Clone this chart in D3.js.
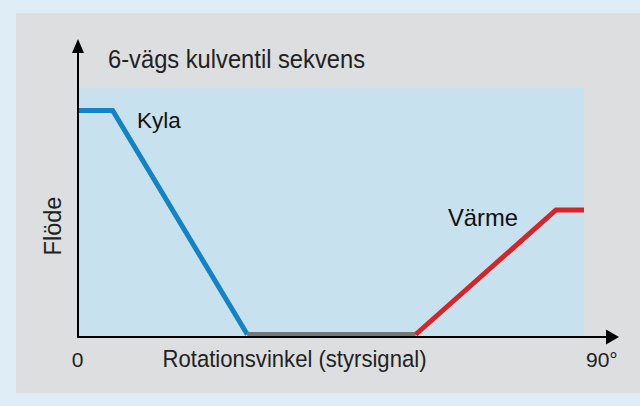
<!DOCTYPE html>
<html>
<head>
<meta charset="utf-8">
<script src="https://cdn.jsdelivr.net/npm/d3@7"></script>
<style>
  html, body { margin: 0; padding: 0; background: #dfeef6; }
  svg { display: block; font-family: 'Liberation Sans', Arial, Helvetica, sans-serif; }
</style>
</head>
<body>
<div id="chart"></div>
<script>
const title = '6-vägs kulventil sekvens'
const xLabel = 'Rotationsvinkel (styrsignal)'
const yLabel = 'Flöde'
const xTickValues = [0, 90]
const xTickLabels = ['0', '90°']

// rotation (0-90°) vs flow (0-100)
const kylaX = [0, 6, 30]
const kylaY = [90, 90, 0]
const closedX = [30, 60]
const closedY = [0, 0]
const varmeX = [60, 85, 90]
const varmeY = [0, 50, 50]

const width = 640
const height = 406
const lineWidth = 5

const colors = {
  outer: '#dfeef6',
  panel: '#dcdee0',
  plot: '#c8e1ee',
  kyla: '#1483c6',
  closed: '#757878',
  varme: '#d4252b',
  text: '#222',
}

const svg = d3.select('#chart')
  .append('svg')
  .attr('width', width)
  .attr('height', height)

svg.append('rect')
  .attr('width', width).attr('height', height)
  .attr('fill', colors.outer)

svg.append('rect')
  .attr('x', 16).attr('y', 13)
  .attr('width', width - 16).attr('height', 380)
  .attr('fill', colors.panel)

const x = d3.scaleLinear().domain([0, 90]).range([79, 584])
const y = d3.scaleLinear().domain([0, 100]).range([337, 88])

svg.append('rect')
  .attr('x', x(0) - 1).attr('y', y(100))
  .attr('width', x(90) - x(0) + 1).attr('height', y(0) - y(100))
  .attr('fill', colors.plot)

// lines sit on top of the x axis
const line = d3.line()
  .x((d) => x(d[0]))
  .y((d) => y(d[1]) - lineWidth / 2)

const series = [
  { xs: kylaX, ys: kylaY, color: colors.kyla },
  { xs: closedX, ys: closedY, color: colors.closed },
  { xs: varmeX, ys: varmeY, color: colors.varme },
]

svg.append('g')
  .selectAll('path')
  .data(series)
  .join('path')
  .attr('d', (s) => line(s.xs.map((v, i) => [v, s.ys[i]])))
  .attr('fill', 'none')
  .attr('stroke', (s) => s.color)
  .attr('stroke-width', lineWidth)
  .attr('stroke-linejoin', 'miter')

// axes with arrows
const axisX0 = x(0) - 1
const axisY0 = y(0)

svg.append('line')
  .attr('x1', axisX0).attr('y1', axisY0)
  .attr('x2', axisX0).attr('y2', 50)
  .attr('stroke', '#000').attr('stroke-width', 2)
svg.append('path')
  .attr('d', `M${axisX0},39L${axisX0 + 6},53L${axisX0 - 6},53Z`)
  .attr('fill', '#000')

svg.append('line')
  .attr('x1', axisX0 - 1).attr('y1', axisY0)
  .attr('x2', 609).attr('y2', axisY0)
  .attr('stroke', '#000').attr('stroke-width', 2)
svg.append('path')
  .attr('d', `M619,${axisY0}L606,${axisY0 - 7.5}L606,${axisY0 + 7.5}Z`)
  .attr('fill', '#000')

// texts (the original lettering is slightly condensed)
svg.append('text')
  .attr('x', 108).attr('y', 68)
  .attr('font-size', 25)
  .attr('textLength', 257)
  .attr('lengthAdjust', 'spacingAndGlyphs')
  .attr('fill', colors.text)
  .text(title)

svg.append('text')
  .attr('x', 137).attr('y', 128)
  .attr('font-size', 22.5)
  .attr('fill', '#111')
  .text('Kyla')

svg.append('text')
  .attr('x', 448).attr('y', 226)
  .attr('font-size', 24)
  .attr('textLength', 70)
  .attr('lengthAdjust', 'spacingAndGlyphs')
  .attr('fill', '#111')
  .text('Värme')

svg.append('text')
  .attr('transform', 'translate(61,226) rotate(-90)')
  .attr('text-anchor', 'middle')
  .attr('font-size', 23.5)
  .attr('fill', colors.text)
  .text(yLabel)

svg.append('text')
  .attr('x', 162.5).attr('y', 367)
  .attr('font-size', 24.5)
  .attr('textLength', 264)
  .attr('lengthAdjust', 'spacingAndGlyphs')
  .attr('fill', colors.text)
  .text(xLabel)

svg.append('g')
  .selectAll('text')
  .data(xTickValues)
  .join('text')
  .attr('x', (d, i) => (i === 0 ? x(d) - 1.5 : x(d) + 2))
  .attr('y', 367)
  .attr('text-anchor', (d, i) => (i === 0 ? 'middle' : 'start'))
  .attr('font-size', 21)
  .attr('fill', colors.text)
  .text((d, i) => xTickLabels[i])
</script>
</body>
</html>
